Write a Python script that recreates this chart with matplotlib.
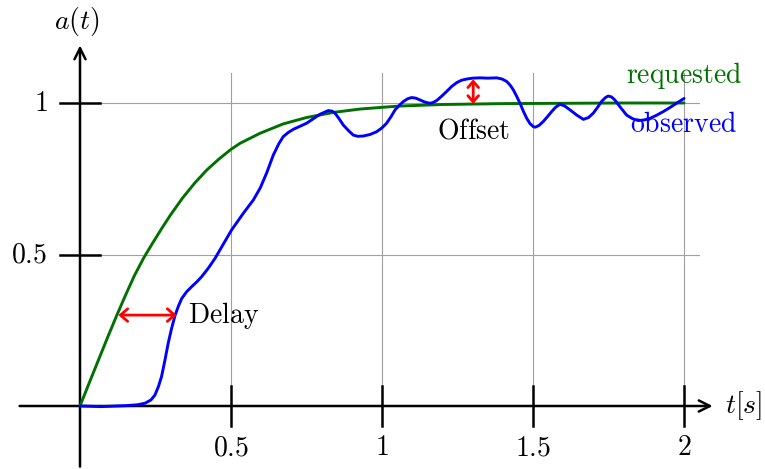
import matplotlib
matplotlib.use("Agg")
import matplotlib.pyplot as plt

plt.rcParams['mathtext.fontset'] = 'cm'
plt.rcParams['font.family'] = 'DejaVu Serif'

# requested response
t_req = [0.0, 0.03, 0.06, 0.09, 0.12, 0.15, 0.18, 0.21, 0.24, 0.27, 0.30,
         0.34, 0.38, 0.42, 0.46, 0.50, 0.53, 0.596, 0.673, 0.75,
         0.839, 0.927, 1.004, 1.06, 1.2, 1.4, 1.6, 1.8, 2.0]
a_req = [0.0, 0.075, 0.149, 0.223, 0.295, 0.364, 0.43, 0.487, 0.537, 0.585,
         0.631, 0.687, 0.736, 0.779, 0.815, 0.847, 0.867, 0.90, 0.931, 0.952,
         0.969, 0.98, 0.986, 0.99, 0.995, 0.998, 0.999, 1.0, 1.0]

t_obs = [0.0, 0.07, 0.149, 0.19, 0.215, 0.235, 0.248, 0.26, 0.27, 0.281,
         0.292, 0.303, 0.315, 0.326, 0.337, 0.353, 0.37, 0.387, 0.403, 0.425,
         0.447, 0.475, 0.502, 0.54, 0.574, 0.597, 0.618, 0.64, 0.658, 0.673,
         0.69, 0.706, 0.75, 0.795, 0.822, 0.835, 0.844, 0.858, 0.872, 0.89,
         0.905, 0.92, 0.938, 0.96, 0.982, 1.0, 1.015, 1.03, 1.043, 1.057,
         1.071, 1.085, 1.098, 1.112, 1.126, 1.142, 1.159, 1.17, 1.181, 1.197,
         1.214, 1.23, 1.247, 1.263, 1.28, 1.3, 1.325, 1.35, 1.38, 1.398,
         1.413, 1.425, 1.435, 1.446, 1.457, 1.468, 1.479, 1.49, 1.501, 1.507,
         1.52, 1.534, 1.548, 1.562, 1.575, 1.589, 1.605, 1.623, 1.645, 1.667,
         1.684, 1.7, 1.714, 1.727, 1.74, 1.749, 1.76, 1.771, 1.79, 1.81,
         1.83, 1.849, 1.868, 1.887, 1.91, 1.932, 1.955, 1.975, 2.0]
a_obs = [0.0, -0.002, 0.001, 0.004, 0.009, 0.02, 0.036, 0.065, 0.097, 0.15,
         0.207, 0.255, 0.30, 0.33, 0.355, 0.377, 0.394, 0.41, 0.427, 0.455,
         0.487, 0.535, 0.581, 0.635, 0.68, 0.72, 0.769, 0.828, 0.865, 0.889,
         0.903, 0.913, 0.933, 0.963, 0.975, 0.973, 0.967, 0.948, 0.927, 0.908,
         0.894, 0.89, 0.891, 0.896, 0.905, 0.918, 0.933, 0.955, 0.977, 0.992,
         1.005, 1.014, 1.018, 1.016, 1.010, 1.003, 0.999, 1.002, 1.008, 1.022,
         1.038, 1.054, 1.067, 1.075, 1.079, 1.082, 1.083, 1.082, 1.083, 1.079,
         1.071, 1.058, 1.043, 1.022, 0.999, 0.973, 0.95, 0.932, 0.922, 0.92,
         0.926, 0.939, 0.955, 0.972, 0.986, 0.996, 0.99, 0.977, 0.96, 0.946,
         0.952, 0.967, 0.986, 1.005, 1.018, 1.023, 1.02, 1.01, 0.985, 0.96,
         0.948, 0.942, 0.944, 0.949, 0.96, 0.972, 0.986, 0.999, 1.015]

x_ticks = [0.5, 1, 1.5, 2]
x_tick_labels = ['0.5', '1', '1.5', '2']
y_ticks = [0.5, 1]
y_tick_labels = ['0.5', '1']

delay_t = (0.127, 0.32)
delay_a = 0.30
offset_t = 1.302
offset_a = (0.997, 1.078)

FS = 20
RED_ARROW = '<->, head_length=0.4, head_width=0.35'

fig = plt.figure(figsize=(7.65, 4.69), dpi=100)
ax = fig.add_axes([0, 0, 1, 1])
ax.set_xlim(-80 / 302, 685 / 302)
ax.set_ylim(-63 / 303, 406 / 303)
ax.axis('off')

# grid
for xt in x_ticks:
    ax.plot([xt, xt], [0, 1.1], color='#a0a0a0', lw=0.8, zorder=1)
for yt in y_ticks:
    ax.plot([0, 2.05], [yt, yt], color='#a0a0a0', lw=0.8, zorder=1)

# axes with arrows
ax.annotate('', xy=(2.095, 0), xytext=(-0.2, 0),
            arrowprops=dict(arrowstyle='->', lw=1.8, color='black',
                            mutation_scale=20, shrinkA=0, shrinkB=0), zorder=2)
ax.annotate('', xy=(0, 1.19), xytext=(0, -0.2),
            arrowprops=dict(arrowstyle='->', lw=1.8, color='black',
                            mutation_scale=20, shrinkA=0, shrinkB=0), zorder=2)

# ticks
for xt, lab in zip(x_ticks, x_tick_labels):
    ax.plot([xt, xt], [-0.066, 0.066], color='black', lw=1.8, zorder=2)
    ax.text(xt, -0.138, '$\\mathrm{' + lab + '}$', ha='center', va='center', fontsize=FS)
for yt, lab in zip(y_ticks, y_tick_labels):
    ax.plot([-0.066, 0.066], [yt, yt], color='black', lw=1.8, zorder=2)
    ax.text(-0.108, yt, '$\\mathrm{' + lab + '}$', ha='right', va='center', fontsize=FS)

ax.text(-0.01, 1.27, '$a(t)$', ha='center', va='center', fontsize=FS)
ax.text(2.136, 0.0, '$t[s]$', ha='left', va='center', fontsize=FS)

# curves
ax.plot(t_req, a_req, color='#007000', lw=2.1, zorder=3,
        solid_joinstyle='round', solid_capstyle='round')
ax.plot(t_obs, a_obs, color='#0000ff', lw=2.1, zorder=4,
        solid_joinstyle='round', solid_capstyle='round')

# annotations
ax.annotate('', xy=(delay_t[0], delay_a), xytext=(delay_t[1], delay_a),
            arrowprops=dict(arrowstyle=RED_ARROW, lw=2.0, color='red',
                            mutation_scale=13, shrinkA=0, shrinkB=0), zorder=5)
ax.text(0.358, 0.274, '$\\mathrm{Delay}$', ha='left', va='baseline', fontsize=FS)

ax.annotate('', xy=(offset_t, offset_a[0]), xytext=(offset_t, offset_a[1]),
            arrowprops=dict(arrowstyle=RED_ARROW, lw=2.0, color='red',
                            mutation_scale=11, shrinkA=0, shrinkB=0), zorder=5)
ax.text(offset_t, 0.884, '$\\mathrm{Offset}$', ha='center', va='baseline', fontsize=FS)

ax.text(2.0, 1.066, '$\\mathrm{requested}$', ha='center', va='baseline',
        fontsize=FS, color='#007000')
ax.text(2.0, 0.904, '$\\mathrm{observed}$', ha='center', va='baseline',
        fontsize=FS, color='#0000ff')

fig.savefig('out.png', dpi=100)
